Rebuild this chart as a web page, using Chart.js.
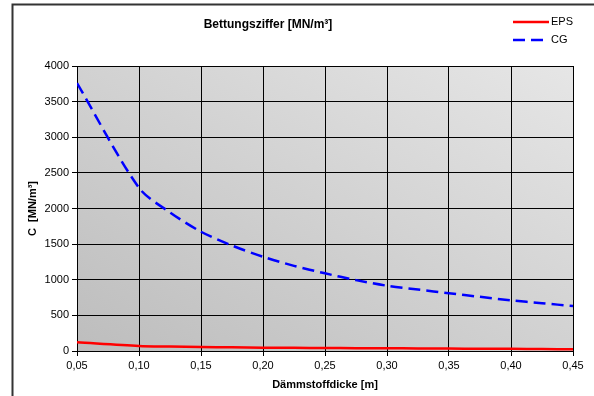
<!DOCTYPE html>
<html>
<head>
<meta charset="utf-8">
<title>Bettungsziffer</title>
<script src="https://cdn.jsdelivr.net/npm/chart.js@4/dist/chart.umd.min.js"></script>
<style>
    html, body { margin: 0; padding: 0; background: #fff; }
    #wrap { width: 594px; height: 396px; }
</style>
</head>
<body>
<div id="wrap"><canvas id="bettungChart" width="594" height="396"></canvas></div>
<script>
// Dämmstoffdicke [m]
const thickness = [0.05, 0.10, 0.125, 0.15, 0.175, 0.20, 0.225, 0.25, 0.275, 0.30, 0.325, 0.35, 0.375, 0.40, 0.425, 0.45];
// Bettungsziffer C [MN/m³]
const epsValues = [122, 70, 62, 56, 51, 47, 44, 42, 40, 38, 36, 34, 32, 30, 27, 24];
const cgValues = [3760, 2290, 1945, 1674, 1480, 1323, 1195, 1090, 995, 916, 862, 810, 760, 711, 670, 632];
const yTicks = [0, 500, 1000, 1500, 2000, 2500, 3000, 3500, 4000];

const FONT = 'Liberation Sans, Arial, sans-serif';

// Punkte für die lineare x-Achse
function toPoints(values) {
    return thickness.map((d, i) => ({ x: d, y: values[i] }));
}

// Rahmen, Verlaufshintergrund, Titel und Legende
const decorPlugin = {
    id: 'decor',
    beforeDraw(chart) {
        const ctx = chart.ctx;
        const a = chart.chartArea;
        ctx.save();
        // Diagramm-Rahmen (oben und links)
        ctx.strokeStyle = '#333';
        ctx.lineWidth = 2;
        ctx.beginPath();
        ctx.moveTo(12.5, 396);
        ctx.lineTo(12.5, 4.5);
        ctx.lineTo(594, 4.5);
        ctx.stroke();

        // Grauer Verlauf in der Zeichenfläche
        const cx = (a.left + a.right) / 2;
        const cy = (a.top + a.bottom) / 2;
        const w = a.right - a.left;
        const h = a.bottom - a.top;
        const len = Math.hypot(w, h);
        const ux = h / len, uy = -w / len;
        const half = (w / 2 * ux) + (-h / 2 * uy);
        const grad = ctx.createLinearGradient(cx - ux * half, cy - uy * half, cx + ux * half, cy + uy * half);
        grad.addColorStop(0, '#bdbdbd');
        grad.addColorStop(1, '#e6e6e6');
        ctx.fillStyle = grad;
        ctx.fillRect(a.left, a.top, w, h);
        ctx.restore();
    },
    afterDraw(chart) {
        const ctx = chart.ctx;
        ctx.save();
        ctx.fillStyle = '#000';
        ctx.font = 'bold 12px ' + FONT;
        ctx.textAlign = 'center';
        ctx.textBaseline = 'middle';
        ctx.fillText('Bettungsziffer [MN/m³]', 268, 25);

        // Legende oben rechts
        ctx.font = '11px ' + FONT;
        ctx.textAlign = 'left';
        chart.data.datasets.forEach((ds, i) => {
            const y = 22 + i * 18;
            ctx.strokeStyle = ds.borderColor;
            ctx.lineWidth = ds.borderWidth;
            ctx.setLineDash(ds.borderDash || []);
            ctx.beginPath();
            ctx.moveTo(513, y);
            ctx.lineTo(549, y);
            ctx.stroke();
            ctx.setLineDash([]);
            ctx.fillText(ds.label, 551, y);
        });
        ctx.restore();
    }
};

const ctx = document.getElementById('bettungChart').getContext('2d');
new Chart(ctx, {
    type: 'line',
    data: {
        datasets: [{
            label: 'EPS',
            data: toPoints(epsValues),
            borderColor: '#ff0000',
            borderWidth: 2.5,
            pointRadius: 0,
            tension: 0.3,
            fill: false
        }, {
            label: 'CG',
            data: toPoints(cgValues),
            borderColor: '#0000ff',
            borderWidth: 2.5,
            borderDash: [12, 6],
            pointRadius: 0,
            tension: 0.3,
            fill: false
        }]
    },
    options: {
        responsive: false,
        animation: false,
        layout: {
            padding: { left: 20, right: 21, top: 66, bottom: 4 }
        },
        plugins: {
            legend: { display: false },
            title: { display: false },
            tooltip: { enabled: false }
        },
        scales: {
            x: {
                type: 'linear',
                min: 0.05,
                max: 0.45,
                afterFit(scale) { scale.height = 41; },
                afterBuildTicks(scale) {
                    scale.ticks = thickness.filter((d, i) => Math.round(d * 1000) % 50 === 0).map(v => ({ value: v }));
                },
                ticks: {
                    color: '#000',
                    padding: 3,
                    maxRotation: 0,
                    font: { family: FONT, size: 11 },
                    callback: value => value.toFixed(2).replace('.', ',')
                },
                grid: { color: '#000', lineWidth: 1, tickLength: 5, tickColor: '#000' },
                border: { color: '#000', width: 1 },
                title: {
                    display: true,
                    text: 'Dämmstoffdicke [m]',
                    color: '#000',
                    padding: { top: 0, bottom: 0 },
                    font: { family: FONT, size: 11, weight: 'bold' }
                }
            },
            y: {
                min: 0,
                max: 4000,
                afterFit(scale) { scale.width = 57; },
                afterBuildTicks(scale) {
                    scale.ticks = yTicks.map(v => ({ value: v }));
                },
                ticks: {
                    color: '#000',
                    padding: 3,
                    font: { family: FONT, size: 11 },
                    callback: value => String(value)
                },
                grid: { color: '#000', lineWidth: 1, tickLength: 5, tickColor: '#000' },
                border: { color: '#000', width: 1 },
                title: {
                    display: true,
                    text: 'C  [MN/m³]',
                    color: '#000',
                    padding: { top: 6, bottom: 0 },
                    font: { family: FONT, size: 11, weight: 'bold' }
                }
            }
        }
    },
    plugins: [decorPlugin]
});
</script>
</body>
</html>
